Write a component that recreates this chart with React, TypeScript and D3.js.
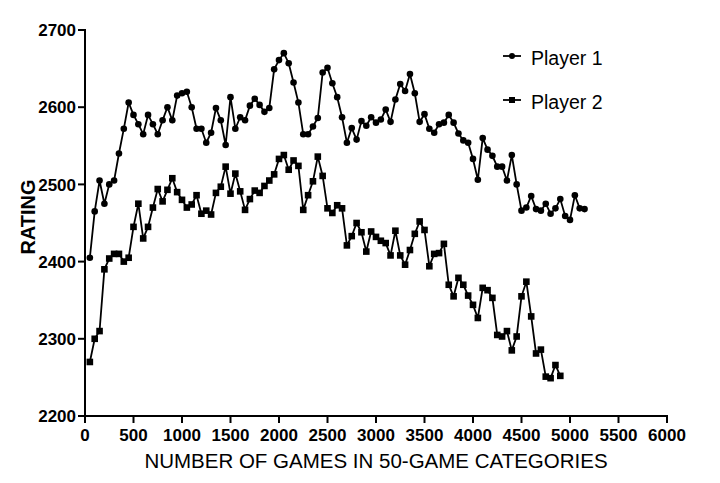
import * as d3 from 'd3';

// ratings per 50-game category, first category = 50 games
const STEP = 50;
const player1 = [
  2405, 2465, 2505, 2475, 2500, 2505, 2540, 2572, 2606, 2590,
  2578, 2565, 2590, 2578, 2565, 2583, 2600, 2583, 2615, 2618,
  2620, 2600, 2572, 2572, 2554, 2567, 2599, 2583, 2551, 2613,
  2572, 2587, 2583, 2602, 2611, 2603, 2594, 2599, 2649, 2661,
  2670, 2657, 2632, 2606, 2565, 2565, 2575, 2586, 2645, 2651,
  2631, 2613, 2587, 2554, 2573, 2558, 2582, 2576, 2587, 2580,
  2584, 2597, 2581, 2610, 2630, 2621, 2643, 2618, 2581, 2591,
  2572, 2567, 2578, 2580, 2590, 2580, 2566, 2557, 2554, 2533,
  2506, 2560, 2545, 2537, 2523, 2523, 2505, 2538, 2500, 2466,
  2470, 2485, 2468, 2466, 2475, 2462, 2469, 2481, 2459, 2454,
  2486, 2469, 2468,
];
const player2 = [
  2270, 2300, 2310, 2390, 2404, 2410, 2410, 2400, 2405, 2445,
  2475, 2430, 2445, 2470, 2494, 2478, 2493, 2508, 2490, 2480,
  2470, 2474, 2486, 2462, 2466, 2461, 2489, 2497, 2523, 2488,
  2514, 2491, 2467, 2481, 2492, 2489, 2498, 2505, 2513, 2533,
  2538, 2519, 2531, 2524, 2467, 2486, 2504, 2536, 2511, 2469,
  2463, 2473, 2469, 2421, 2433, 2450, 2438, 2413, 2439, 2432,
  2427, 2424, 2408, 2440, 2408, 2396, 2415, 2436, 2452, 2441,
  2394, 2410, 2411, 2423, 2370, 2355, 2379, 2370, 2356, 2344,
  2327, 2366, 2363, 2353, 2305, 2303, 2310, 2285, 2303, 2355,
  2374, 2329, 2281, 2286, 2251, 2249, 2266, 2252,
];
const xTicks = [0, 500, 1000, 1500, 2000, 2500, 3000, 3500, 4000, 4500, 5000, 5500, 6000];
const yTicks = [2200, 2300, 2400, 2500, 2600, 2700];
const seriesNames = ['Player 1', 'Player 2'];

const W = 720;
const H = 483;
const font = '"Liberation Sans", Arial, sans-serif';

export default function App() {
  const x = d3.scaleLinear().domain([0, 6000]).range([85, 667]);
  const y = d3.scaleLinear().domain([2200, 2700]).range([416, 30]);

  const toPts = (vals: number[]) => vals.map((v, i) => [(i + 1) * STEP, v] as [number, number]);
  const p1 = toPts(player1);
  const p2 = toPts(player2);

  const line = d3
    .line<[number, number]>()
    .x(d => x(d[0]))
    .y(d => y(d[1]));

  return (
    <div style={{ position: 'fixed', left: 0, top: 0 }}>
      <svg width={W} height={H} style={{ display: 'block', background: '#fff' }} fontFamily={font}>
        {/* series */}
        <path d={line(p1) || ''} fill="none" stroke="#000" strokeWidth={1.8} />
        {p1.map((d, i) => (
          <circle key={'c' + i} cx={x(d[0])} cy={y(d[1])} r={3.3} fill="#000" />
        ))}
        <path d={line(p2) || ''} fill="none" stroke="#000" strokeWidth={1.8} />
        {p2.map((d, i) => (
          <rect key={'s' + i} x={x(d[0]) - 3.3} y={y(d[1]) - 3.3} width={6.6} height={6.6} fill="#000" />
        ))}

        {/* y axis */}
        <line x1={85} x2={85} y1={y(2700) - 1} y2={y(2200) + 1} stroke="#000" strokeWidth={2} />
        {yTicks.map(t => (
          <g key={'y' + t}>
            <line x1={78} x2={85} y1={y(t)} y2={y(t)} stroke="#000" strokeWidth={2} />
            <text x={76} y={y(t)} dy="0.36em" textAnchor="end" fontSize={17} fontWeight="bold">
              {t}
            </text>
          </g>
        ))}
        <text
          transform="translate(35, 217) rotate(-90)"
          textAnchor="middle"
          fontSize={20}
          fontWeight="bold"
        >
          RATING
        </text>

        {/* x axis */}
        <line x1={84} x2={x(6000) + 1} y1={416} y2={416} stroke="#000" strokeWidth={2} />
        {xTicks.map(t => (
          <g key={'x' + t}>
            <line x1={x(t)} x2={x(t)} y1={416} y2={423} stroke="#000" strokeWidth={2} />
            <text x={x(t)} y={441} textAnchor="middle" fontSize={17} fontWeight="bold">
              {t}
            </text>
          </g>
        ))}
        <text x={376} y={468} textAnchor="middle" fontSize={20.5}>
          NUMBER OF GAMES IN 50-GAME CATEGORIES
        </text>

        {/* legend */}
        {seriesNames.map((name, i) => {
          const ly = 56 + i * 44;
          return (
            <g key={name}>
              <line x1={503} x2={521} y1={ly} y2={ly} stroke="#000" strokeWidth={1.8} />
              {i === 0 ? (
                <circle cx={512} cy={ly} r={3} fill="#000" />
              ) : (
                <rect x={509} y={ly - 3} width={6} height={6} fill="#000" />
              )}
              <text x={531} y={ly + 9} fontSize={19.5}>
                {name}
              </text>
            </g>
          );
        })}
      </svg>
    </div>
  );
}
